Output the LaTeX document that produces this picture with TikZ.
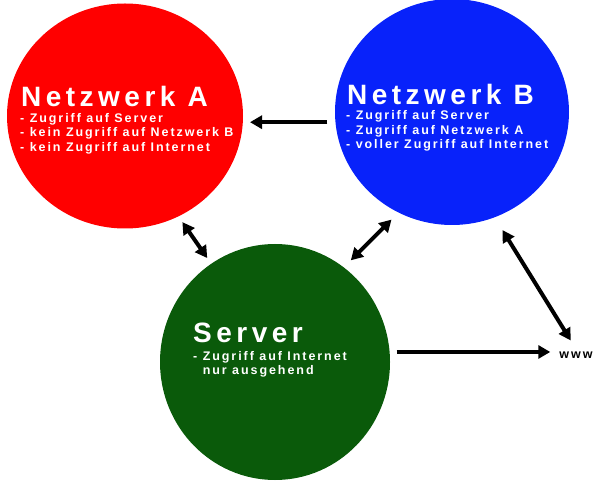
\documentclass[tikz,border=0pt]{standalone}
\usepackage{fontspec}
\setmainfont{Liberation Sans}
\newfontfamily\titlefont[LetterSpace=16]{Liberation Sans}
\newfontfamily\notefont[LetterSpace=15.5]{Liberation Sans}
\usepackage{tikz}
\usetikzlibrary{arrows.meta,calc,positioning,shapes.geometric}
\definecolor{netzred}{RGB}{255,0,0}
\definecolor{netzblue}{RGB}{8,34,250}
\definecolor{srvgreen}{RGB}{10,90,10}

\begin{document}
\begin{tikzpicture}[x=1pt,y=-1pt,
  blob/.style={ellipse,draw=none,inner sep=0pt,outer sep=0pt,fill=#1},
  ttl/.style={anchor=base west,inner sep=0pt,text=white,font=\titlefont\bfseries\fontsize{28}{30}\selectfont},
  notes/.style={anchor=north west,inner sep=0pt,align=left,text=white,font=\notefont\bfseries\fontsize{12.5}{14.5}\selectfont},
  link/.style={line width=4pt,-{Triangle[length=12pt,width=13pt]}},
  both/.style={line width=4pt,{Triangle[length=12pt,width=13pt]}-{Triangle[length=12pt,width=13pt]}}]
  \useasboundingbox (0,0) rectangle (600,486);
  % the three circles
  \node[blob=netzred,minimum width=236pt,minimum height=225pt] (netzA) at (125,116) {};
  \node[blob=netzblue,minimum width=234pt,minimum height=226pt] (netzB) at (452,112) {};
  \node[blob=srvgreen,minimum width=230pt,minimum height=236pt] (server) at (275,362) {};
  \node[ttl] (titleA) at (21,107) {Netzwerk A};
  \node[notes] (listA) at (20,113) {- Zugriff auf Server\\- kein Zugriff auf Netzwerk B\\- kein Zugriff auf Internet};
  \node[ttl] (titleB) at (347,105) {Netzwerk B};
  \node[notes] (listB) at (346,110.5) {- Zugriff auf Server\\- Zugriff auf Netzwerk A\\- voller Zugriff auf Internet};
  \node[ttl] (titleS) at (193,343) {Server};
  \node[notes] (listS) at (193,351) {- Zugriff auf Internet\\\phantom{- }nur ausgehend};
  \node[inner sep=3pt,font=\notefont\bfseries\fontsize{12.5}{14}\selectfont] (www) at (576,355.5) {www};
  % connections
  \draw[link,shorten <=8pt,shorten >=7pt] (netzB.185) -- (netzB.185 -| netzA.east);
  \draw[both,shorten <=7pt,shorten >=7pt] (netzA.298) -- (server.123);
  \draw[both,shorten <=10pt,shorten >=10pt] (netzB.242) -- (server.54);
  \draw[both,shorten <=15pt,shorten >=10pt] (netzB.292) -- (www.north);
  \draw[link,shorten <=7pt,shorten >=6pt] (server.5) -- (server.5 -| www.west);
\end{tikzpicture}
\end{document}
